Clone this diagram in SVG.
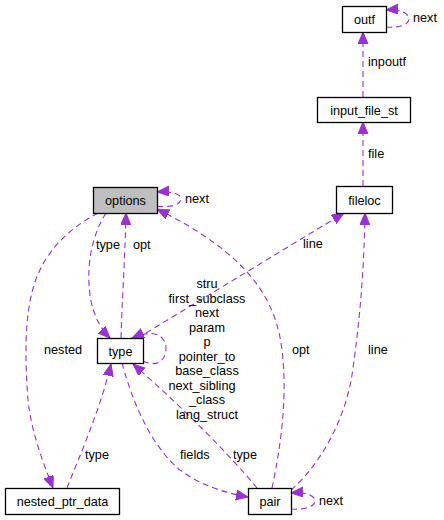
<svg xmlns="http://www.w3.org/2000/svg" width="444" height="520" viewBox="0 0 444 520">
<defs>
<marker id="ah" markerUnits="userSpaceOnUse" markerWidth="14" markerHeight="12" refX="12" refY="5" orient="auto">
<path d="M0,0 L12,5 L0,10 z" fill="#9a32cd" stroke="#9a32cd" stroke-width="1"/>
</marker>
</defs>
<style>
.n rect{fill:#ffffff;stroke:#000000;stroke-width:1.3}
.n text, .lbl{font-family:"Liberation Sans",Arial,sans-serif;font-size:12.7px;fill:#000000}
.n text{text-anchor:middle}
.e path{fill:none;stroke:#9a32cd;stroke-width:1.1;stroke-dasharray:6,4;marker-end:url(#ah)}
</style>
<rect width="444" height="520" fill="#ffffff"/>
<g id="edges" class="e">
<path d="M157,206 C169,208 181,205 181,199 C181,194 172,191 157,192"/>
<path d="M121,338 C122,300 125,260 126,213"/>
<path d="M106,213 C92,235 86,265 90,295 C93,315 100,328 110,338"/>
<path d="M98,213 C70,228 45,250 34,285 C24,318 25,360 28,400 C31,430 42,460 53,488"/>
<path d="M67,488 C80,455 100,410 111,364"/>
<path d="M122,363 C132,400 150,445 180,470 C200,485 225,493 248,497"/>
<path d="M257,488 C230,455 180,405 133,364"/>
<path d="M146,333 L344,213"/>
<path d="M143,361 C157,368 166,360 166,349 C166,336 155,328 132,338"/>
<path d="M272,488 C280,450 288,400 282,350 C276,300 250,255 157,209"/>
<path d="M291,490 C320,465 345,420 352,375 C360,320 364,270 365,213"/>
<path d="M291,509 C303,510 315,507 315,501 C315,495 305,492 291,493"/>
<path d="M386,27 C398,28 409,25 409,19 C409,13 400,9 386,10"/>
<path d="M363,97 L363,32"/>
<path d="M363,186 L363,122"/>
</g>
<g id="edge-labels">
<text class="lbl" x="185" y="203">next</text>
<text class="lbl" x="133" y="249">opt</text>
<text class="lbl" x="96" y="249">type</text>
<text class="lbl" x="44" y="354">nested</text>
<text class="lbl" x="85" y="459">type</text>
<text class="lbl" x="180" y="459">fields</text>
<text class="lbl" x="233" y="459">type</text>
<text class="lbl" x="303" y="248">line</text>
<text class="lbl" x="292" y="354">opt</text>
<text class="lbl" x="368" y="354">line</text>
<text class="lbl" x="319" y="505">next</text>
<text class="lbl" x="413" y="22">next</text>
<text class="lbl" x="368" y="66">inpoutf</text>
<text class="lbl" x="368" y="158">file</text>
<g text-anchor="middle">
<text class="lbl" x="207" y="288">stru</text>
<text class="lbl" x="207" y="302.5">first_subclass</text>
<text class="lbl" x="207" y="317">next</text>
<text class="lbl" x="207" y="331.5">param</text>
<text class="lbl" x="207" y="346">p</text>
<text class="lbl" x="207" y="360.5">pointer_to</text>
<text class="lbl" x="207" y="375">base_class</text>
<text class="lbl" x="202" y="389.5">next_sibling</text>
<text class="lbl" x="207" y="404">_class</text>
<text class="lbl" x="207" y="418.5">lang_struct</text>
</g>
</g>
<g id="options" class="n"><rect x="93.5" y="187.5" width="64" height="26" style="fill:#bfbfbf"/><text x="125.5" y="205">options</text></g>
<g id="type" class="n"><rect x="97.5" y="338.5" width="46" height="25"/><text x="120.5" y="355.5">type</text></g>
<g id="fileloc" class="n"><rect x="336.5" y="186.5" width="56" height="27"/><text x="364.5" y="204.5">fileloc</text></g>
<g id="outf" class="n"><rect x="342.5" y="6.5" width="44" height="26"/><text x="364.5" y="24">outf</text></g>
<g id="input_file_st" class="n"><rect x="317.5" y="97.5" width="93" height="25"/><text x="364" y="114.5">input_file_st</text></g>
<g id="nested_ptr_data" class="n"><rect x="5.5" y="488.5" width="114" height="26"/><text x="62.5" y="506">nested_ptr_data</text></g>
<g id="pair" class="n"><rect x="248.5" y="488.5" width="43" height="26"/><text x="270" y="506">pair</text></g>
</svg>
